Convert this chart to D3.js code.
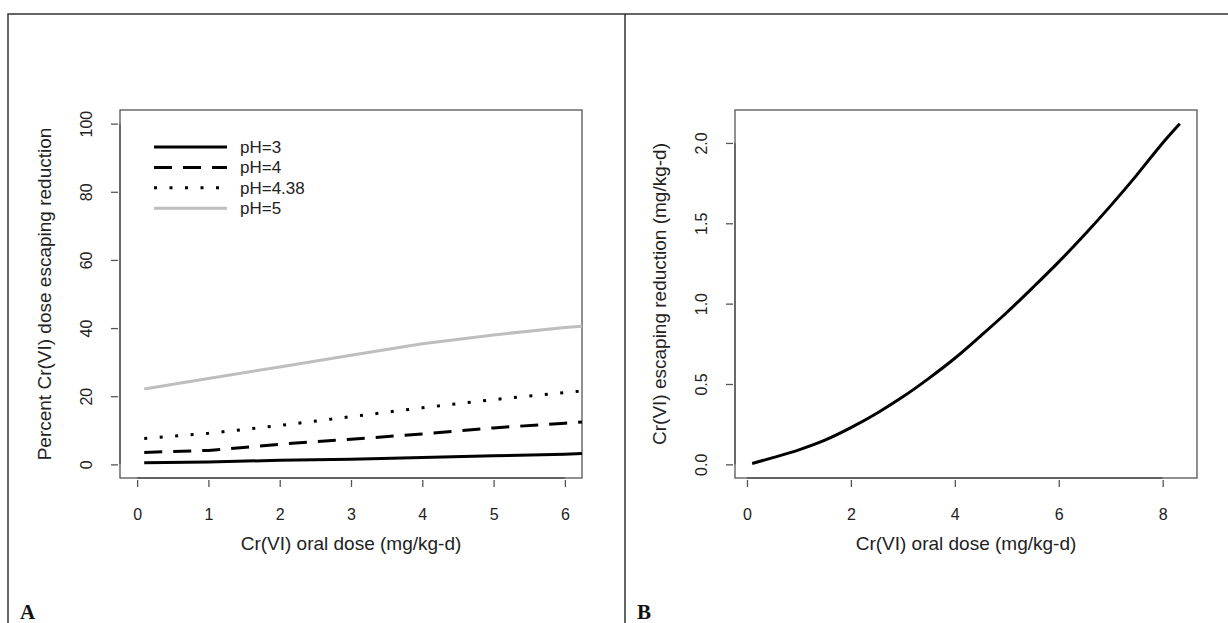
<!DOCTYPE html>
<html lang="en">
<head>
<meta charset="utf-8">
<title>Cr(VI) escaping reduction</title>
<script type="text/javascript" src="https://d3js.org/d3.v7.min.js"></script>
<style>
    body { margin: 0; background: white; }
    text { font-family: "Liberation Sans", Arial, sans-serif; fill: #222; }
    .panel-tag { font-family: "Liberation Serif", serif; font-weight: bold; font-size: 21px; fill: #111; }
</style>
</head>
<body>
<div id="container"></div>
<script type="text/javascript">

    //data panel A (percent escaping reduction)
    var doseA = [0.1, 1, 2, 3, 4, 5, 6, 6.24];
    var pH3 = [0.5, 0.7, 1.2, 1.5, 2.0, 2.5, 3.0, 3.2];
    var pH4 = [3.5, 4.1, 5.9, 7.4, 8.9, 10.7, 12.1, 12.4];
    var pH438 = [7.6, 9.1, 11.4, 14.0, 16.6, 19.0, 21.1, 21.5];
    var pH5 = [22.1, 25.2, 28.6, 32.0, 35.4, 38.0, 40.2, 40.5];
    var legendLabels = ["pH=3", "pH=4", "pH=4.38", "pH=5"];

    //data panel B (dose escaping reduction)
    var doseB = [0.1, 0.5, 1, 1.5, 2, 2.5, 3, 3.5, 4, 4.5, 5, 5.5, 6, 6.5, 7, 7.5, 8, 8.33];
    var escB = [0.005, 0.042, 0.09, 0.15, 0.228, 0.318, 0.42, 0.535, 0.66, 0.80, 0.945, 1.10, 1.26, 1.43, 1.61, 1.80, 2.0, 2.12];

    //tick labels
    var xTicksA = [0, 1, 2, 3, 4, 5, 6];
    var yTicksA = ["0", "20", "40", "60", "80", "100"];
    var xTicksB = [0, 2, 4, 6, 8];
    var yTicksB = ["0.0", "0.5", "1.0", "1.5", "2.0"];

    //layout
    var w = 1228;
    var h = 623;
    var plotTop = 110, plotBottom = 478;

    var svg = d3.select("div#container").append("svg")
        .attr("width", w).attr("height", h)
        .style("background", "white");

    //outer frame of the figure
    svg.append("path")
        .attr("d", "M8," + h + "V14H" + w + "M625,14V" + h)
        .attr("fill", "none").attr("stroke", "#333").attr("stroke-width", 1.5);

    //draw one R-style panel
    function panel(left, right, xDom, yDom, xTicks, yTicks, yTitle, id) {
        var x = d3.scaleLinear().domain(xDom).range([left, right]);
        var y = d3.scaleLinear().domain(yDom).range([plotBottom, plotTop]);
        var g = svg.append("g");

        g.append("clipPath").attr("id", id)
            .append("rect").attr("x", left).attr("y", plotTop)
            .attr("width", right - left).attr("height", plotBottom - plotTop);

        var xAxis = g.append("g").attr("transform", "translate(0," + plotBottom + ")")
            .call(d3.axisBottom(x).tickValues(xTicks).tickSize(9).tickPadding(22).tickFormat(d3.format("d")));
        var yAxis = g.append("g").attr("transform", "translate(" + left + ",0)")
            .call(d3.axisLeft(y).tickValues(yTicks.map(Number)).tickSize(9)
                .tickFormat(function(d, i) { return yTicks[i]; }));

        xAxis.select(".domain").attr("d", "M" + x(xTicks[0]) + ",0H" + x(xTicks[xTicks.length - 1]));
        yAxis.select(".domain").attr("d", "M0," + y(+yTicks[0]) + "V" + y(+yTicks[yTicks.length - 1]));
        g.selectAll(".domain, .tick line").attr("stroke", "#555").attr("stroke-width", 1.3);
        xAxis.selectAll(".tick line").attr("y1", 2);
        yAxis.selectAll(".tick line").attr("x1", -2);
        xAxis.selectAll("text").attr("font-size", 16).attr("fill", "#222");
        // R style: y tick labels parallel to the axis
        yAxis.selectAll("text")
            .attr("font-size", 16).attr("fill", "#222")
            .attr("text-anchor", "middle")
            .attr("x", null).attr("dy", "0.35em")
            .attr("transform", "translate(-34,0) rotate(-90)");

        //plot box
        g.append("rect").attr("x", left).attr("y", plotTop)
            .attr("width", right - left).attr("height", plotBottom - plotTop)
            .attr("fill", "none").attr("stroke", "#555").attr("stroke-width", 1.3);

        //titles
        g.append("text").attr("x", (left + right) / 2).attr("y", 550)
            .attr("text-anchor", "middle").attr("font-size", 19)
            .text("Cr(VI) oral dose (mg/kg-d)");
        g.append("text")
            .attr("transform", "translate(" + (left - 76) + "," + ((plotTop + plotBottom) / 2) + ") rotate(-90)")
            .attr("text-anchor", "middle").attr("dy", "0.35em").attr("font-size", 19)
            .text(yTitle);

        return {x: x, y: y, g: g};
    }

    //panel A
    var A = panel(120, 582, [-0.24, 6.24], [-4, 104], xTicksA, yTicksA,
        "Percent Cr(VI) dose escaping reduction", "clipA");

    var seriesA = [
        {vals: pH3, color: "#000", dash: null},
        {vals: pH4, color: "#000", dash: "18,11"},
        {vals: pH438, color: "#000", dash: "3,12.5"},
        {vals: pH5, color: "#bebebe", dash: null}
    ];

    var lineA = d3.line()
        .x(function(d, i) { return A.x(doseA[i]); })
        .y(function(d) { return A.y(d); });

    A.g.append("g").attr("clip-path", "url(#clipA)")
        .selectAll("path")
        .data(seriesA)
        .enter()
        .append("path")
        .attr("d", function(d) { return lineA(d.vals); })
        .attr("fill", "none")
        .attr("stroke", function(d) { return d.color; })
        .attr("stroke-width", 3)
        .attr("stroke-dasharray", function(d) { return d.dash; });

    //legend
    var leg = A.g.selectAll(".leg")
        .data(seriesA)
        .enter()
        .append("g")
        .attr("class", "leg")
        .attr("transform", function(d, i) { return "translate(154," + (147 + i * 20.4) + ")"; });
    leg.append("line").attr("x1", 0).attr("x2", 73)
        .attr("stroke", function(d) { return d.color; })
        .attr("stroke-width", 3)
        .attr("stroke-dasharray", function(d) { return d.dash; });
    leg.append("text").attr("x", 86).attr("dy", "0.35em").attr("font-size", 17)
        .text(function(d, i) { return legendLabels[i]; });

    //panel B
    var B = panel(735, 1197, [-0.23, 8.66], [-0.085, 2.205], xTicksB, yTicksB,
        "Cr(VI) escaping reduction (mg/kg-d)", "clipB");

    var lineB = d3.line()
        .x(function(d, i) { return B.x(doseB[i]); })
        .y(function(d) { return B.y(d); })
        .curve(d3.curveMonotoneX);

    B.g.append("path")
        .attr("d", lineB(escB))
        .attr("fill", "none").attr("stroke", "#000").attr("stroke-width", 3);

    //panel tags
    svg.append("text").attr("class", "panel-tag").attr("x", 20).attr("y", 619).text("A");
    svg.append("text").attr("class", "panel-tag").attr("x", 637).attr("y", 619).text("B");

</script>
</body>
</html>
